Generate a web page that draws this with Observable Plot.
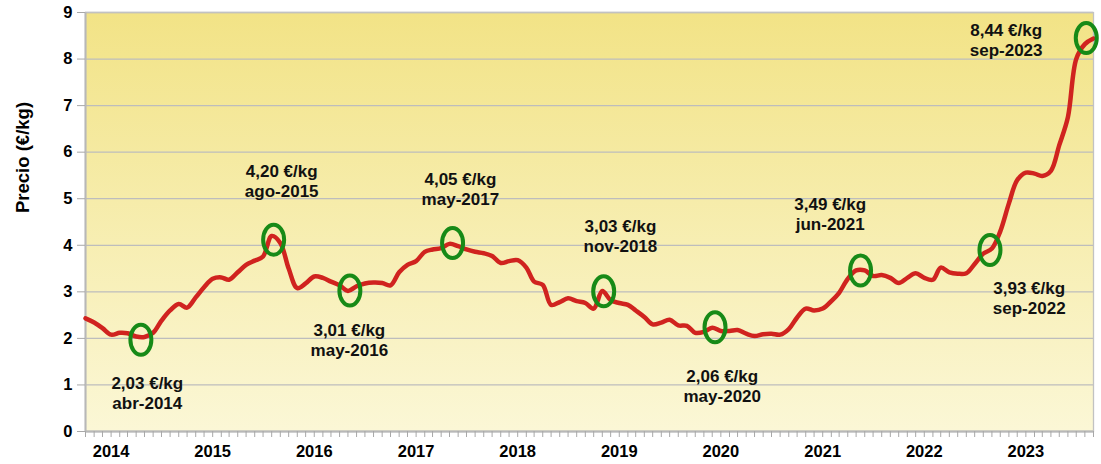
<!DOCTYPE html>
<html>
<head>
<meta charset="utf-8">
<script src="https://cdn.jsdelivr.net/npm/d3@7"></script>
<script src="https://cdn.jsdelivr.net/npm/@observablehq/plot@0.6"></script>
<style>
  html, body { margin: 0; padding: 0; background: #fff; }
</style>
</head>
<body>
<div id="chart"></div>
<script>
// ---- DATA ----
const firstMonth = "2013-10-01";   // first monthly value
const lastMonth = "2023-09-01";    // last monthly value
const prices = [
  2.43, 2.34, 2.22,                                                  // oct-dic 2013
  2.08, 2.12, 2.11, 2.04, 2.03, 2.12, 2.38, 2.60, 2.74, 2.66, 2.88, 3.10, // 2014
  3.28, 3.31, 3.26, 3.42, 3.58, 3.67, 3.76, 4.20, 4.05, 3.50, 3.08, 3.18, // 2015
  3.33, 3.30, 3.22, 3.14, 3.02, 3.12, 3.18, 3.20, 3.19, 3.14, 3.42, 3.58, // 2016
  3.66, 3.86, 3.91, 3.94, 4.03, 3.98, 3.91, 3.86, 3.83, 3.77, 3.62, 3.66, // 2017
  3.68, 3.52, 3.22, 3.15, 2.72, 2.78, 2.86, 2.80, 2.76, 2.64, 3.02, 2.82, // 2018
  2.76, 2.72, 2.60, 2.46, 2.30, 2.34, 2.40, 2.28, 2.27, 2.12, 2.14, 2.23, // 2019
  2.16, 2.16, 2.18, 2.10, 2.05, 2.09, 2.10, 2.08, 2.20, 2.45, 2.64, 2.60, // 2020
  2.64, 2.80, 2.98, 3.28, 3.46, 3.46, 3.34, 3.36, 3.30, 3.19, 3.30, 3.40, // 2021
  3.30, 3.26, 3.52, 3.42, 3.39, 3.40, 3.60, 3.82, 3.93, 4.30, 4.90, 5.40, // 2022
  5.56, 5.54, 5.49, 5.60, 6.15, 6.75, 8.00, 8.32, 8.44                    // 2023
];
const yTicks = [0, 1, 2, 3, 4, 5, 6, 7, 8, 9];
const yearTicks = ["2014", "2015", "2016", "2017", "2018", "2019", "2020", "2021", "2022", "2023"];
const yTitle = "Precio (€/kg)";

// highlighted points (circles) and their labels
const annotPrices = ["2,03 €/kg", "4,20 €/kg", "3,01 €/kg", "4,05 €/kg", "3,03 €/kg", "2,06 €/kg", "3,49 €/kg", "3,93 €/kg", "8,44 €/kg"];
const annotMonths = ["abr-2014", "ago-2015", "may-2016", "may-2017", "nov-2018", "may-2020", "jun-2021", "sep-2022", "sep-2023"];
const circleDates = ["2014-04-18", "2015-08-08", "2016-05-08", "2017-05-12", "2018-11-06", "2019-12-11", "2021-05-17", "2022-08-25", "2023-08-06"];
const circleValues = [1.97, 4.12, 3.03, 4.05, 3.01, 2.24, 3.46, 3.90, 8.45];
const labelDates = ["2014-05-11", "2015-09-06", "2016-05-06", "2017-06-09", "2019-01-05", "2020-01-06", "2021-01-28", "2023-01-13", "2022-10-22"];
const labelValues = [0.84, 5.38, 1.97, 5.22, 4.21, 0.99, 4.68, 2.87, 8.41];

// ---- BUILD TABLES ----
const start = new Date(firstMonth + "T00:00:00Z");
const end = new Date(lastMonth + "T00:00:00Z");
const series = prices.map((v, i) => ({date: d3.utcMonth.offset(start, i), price: v}));
const annots = annotPrices.map((p, i) => ({
  cx: new Date(circleDates[i] + "T00:00:00Z"),
  cy: circleValues[i],
  lx: new Date(labelDates[i] + "T00:00:00Z"),
  ly: labelValues[i],
  text: p + "\n" + annotMonths[i]
}));
const yearDates = yearTicks.map(y => new Date(y + "-01-01T00:00:00Z"));
const monthDates = d3.utcMonth.range(start, d3.utcMonth.offset(end, 1));

// ---- CUSTOM PIECES ----
function background(index, scales, values, dims) {
  const {width, height, marginLeft, marginRight, marginTop, marginBottom} = dims;
  const g = d3.create("svg:g");
  const grad = g.append("defs").append("linearGradient")
    .attr("id", "bggrad").attr("x1", 0).attr("y1", 0).attr("x2", 0).attr("y2", 1);
  grad.append("stop").attr("offset", "0%").attr("stop-color", "#f2e386");
  grad.append("stop").attr("offset", "100%").attr("stop-color", "#fbf7d6");
  g.append("rect")
    .attr("x", marginLeft).attr("y", marginTop)
    .attr("width", width - marginLeft - marginRight)
    .attr("height", height - marginTop - marginBottom)
    .attr("fill", "url(#bggrad)");
  return g.node();
}

const ellipse = {
  draw(ctx) {
    const rx = 10.5, ry = 15, k = 0.5523;
    ctx.moveTo(rx, 0);
    ctx.bezierCurveTo(rx, ry * k, rx * k, ry, 0, ry);
    ctx.bezierCurveTo(-rx * k, ry, -rx, ry * k, -rx, 0);
    ctx.bezierCurveTo(-rx, -ry * k, -rx * k, -ry, 0, -ry);
    ctx.bezierCurveTo(rx * k, -ry, rx, -ry * k, rx, 0);
    ctx.closePath();
  }
};

const chart = Plot.plot({
  width: 1101,
  height: 464,
  marginLeft: 85,
  marginRight: 8,
  marginTop: 12,
  marginBottom: 33,
  style: {fontFamily: "'Liberation Sans', Arial, sans-serif", fontWeight: "bold", fontSize: "16px", color: "#000", background: "#fff"},
  x: {type: "utc", domain: [start, end]},
  y: {domain: [0, 9]},
  marks: [
    background,
    Plot.gridY(yTicks, {stroke: "#bdbdbd", strokeOpacity: 1, strokeWidth: 1.3}),
    Plot.frame({stroke: "#c2c2c2", strokeWidth: 1.3}),
    Plot.ruleX([start], {stroke: "#b8b8b8", strokeWidth: 2}),
    Plot.ruleY([0], {stroke: "#b8b8b8", strokeWidth: 2}),
    Plot.axisY({ticks: yTicks, tickSize: 8, tickPadding: 5, stroke: "#a8a8a8", label: null, fontSize: 16.5, fill: "#000"}),
    Plot.axisX({ticks: monthDates, tickSize: 6, tickFormat: () => "", stroke: "#a8a8a8", label: null}),
    Plot.axisX({ticks: yearDates, tickSize: 0, tickPadding: 14, tickFormat: d => String(d.getUTCFullYear()), label: null, fontSize: 16.5, fill: "#000"}),
    Plot.text([yTitle], {frameAnchor: "left", rotate: -90, dx: -62, dy: -9, fontSize: 18.5, fontWeight: "bold", fill: "#000"}),
    Plot.line(series, {x: "date", y: "price", stroke: "#d0231f", strokeWidth: 4.5, curve: "catmull-rom"}),
    Plot.dot(annots, {x: "cx", y: "cy", symbol: ellipse, r: 10, stroke: "#178a17", strokeWidth: 4, fill: "none"}),
    Plot.text(annots, {x: "lx", y: "ly", text: "text", fontSize: 17, lineHeight: 1.18, fontWeight: "bold", fill: "#111"})
  ]
});
document.getElementById("chart").appendChild(chart);
</script>
</body>
</html>
